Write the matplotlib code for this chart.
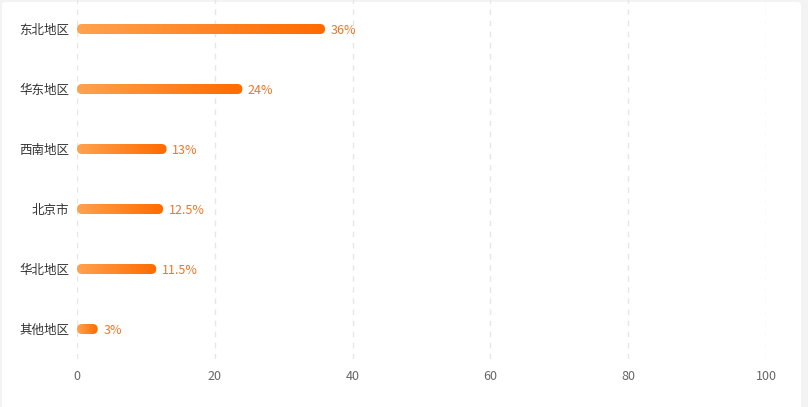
import matplotlib
matplotlib.use("Agg")
import matplotlib.pyplot as plt
import numpy as np
from matplotlib.patches import FancyBboxPatch
from matplotlib.colors import LinearSegmentedColormap
from matplotlib.transforms import offset_copy

plt.rcParams['font.family'] = ['Noto Sans CJK SC', 'DejaVu Sans']

categories = ["东北地区", "华东地区", "西南地区", "北京市", "华北地区", "其他地区"]
values = [36, 24, 13, 12.5, 11.5, 3]
labels = ["36%", "24%", "13%", "12.5%", "11.5%", "3%"]
xticks = [0, 20, 40, 60, 80, 100]

W, H = 808, 407
fig = plt.figure(figsize=(W / 100, H / 100), dpi=100)
fig.patch.set_facecolor('#f3f3f3')
# white card
card = FancyBboxPatch((2 / W, -20 / H), 799 / W, 425 / H,
                      boxstyle="round,pad=0,rounding_size=0.006",
                      transform=fig.transFigure, facecolor='white',
                      edgecolor='none', zorder=-10)
fig.patches.append(card)

ax = fig.add_axes([77 / W, (H - 359) / H, (766 - 77) / W, 360 / H])
ax.set_zorder(1)
ax.set_facecolor('none')
ax.set_xlim(0, 100)
ax.set_ylim(len(categories) - 0.5, -0.5)

px_x = (766 - 77) / 100.0
px_y = 60.0
bar_h_px = 10
bh = bar_h_px / px_y
r_px = bar_h_px / 2
r_x = r_px / px_x
aspect = (r_px / px_y) / r_x

cmap = LinearSegmentedColormap.from_list('g', ['#ffa24f', '#ff6a00'])
grad = np.linspace(0, 1, 256).reshape(1, -1)

for i, (v, lab) in enumerate(zip(values, labels)):
    patch = FancyBboxPatch((0, i - bh / 2), v, bh,
                           boxstyle=f"round,pad=0,rounding_size={r_x}",
                           mutation_aspect=aspect,
                           facecolor='none', edgecolor='none', zorder=3)
    ax.add_patch(patch)
    im = ax.imshow(grad, cmap=cmap, aspect='auto',
                   extent=(0, v, i + bh / 2, i - bh / 2), zorder=3,
                   interpolation='bilinear')
    im.set_clip_path(patch)
    ax.text(v, i, lab, color='#ee7526', fontsize=9, va='center', ha='left',
            transform=offset_copy(ax.transData, fig=fig, x=5.5, y=-1.5, units='dots'),
            zorder=4)

ax.set_xlim(0, 100)
ax.set_ylim(len(categories) - 0.5, -0.5)

ax.set_yticks(range(len(categories)))
ax.set_yticklabels(categories, fontsize=9, color='#333333')
ax.set_xticks(xticks)
ax.set_xticklabels([str(t) for t in xticks], fontsize=9, color='#666666')
ax.tick_params(axis='both', length=0)
ax.tick_params(axis='y', pad=5.5)
ax.tick_params(axis='x', pad=8)
for s in ax.spines.values():
    s.set_visible(False)
ax.grid(axis='x', color='#e6e6e6', linestyle=(0, (4, 4)), linewidth=1)
ax.grid(axis='y', visible=False)
ax.set_axisbelow(True)

fig.savefig('out.png', dpi=100, facecolor=fig.get_facecolor())
